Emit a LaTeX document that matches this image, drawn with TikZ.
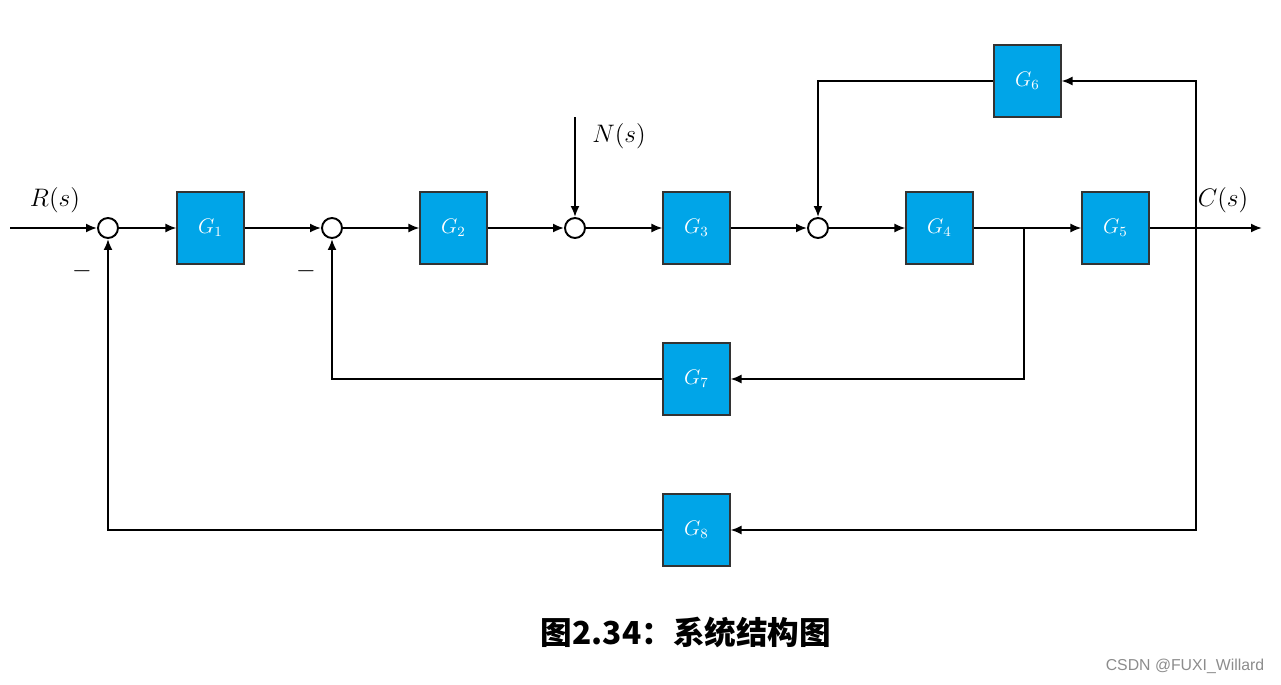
\documentclass[tikz,border=0pt]{standalone}
\usepackage{fontspec}
\newfontfamily\cjk{Noto Sans CJK SC}
\newfontfamily\wmfont{Liberation Sans}
\usepackage{tikz}
\usetikzlibrary{arrows.meta}
\definecolor{blkblue}{RGB}{0,165,232}
\begin{document}
\begin{tikzpicture}[x=0.02cm,y=-0.02cm,
    blk/.style={draw=black!80,line width=0.6pt,fill=blkblue,minimum width=1.34cm,minimum height=1.44cm,inner sep=0pt,text=white,font=\large},
    sum/.style={circle,draw,line width=1.1pt,fill=white,minimum size=0.4cm,inner sep=0pt},
    sig/.style={line width=1.1pt,-{Latex[length=2.2mm,width=1.8mm]}},
    wire/.style={line width=1.1pt},
    lbl/.style={font=\Large}]
        \useasboundingbox (0,0) rectangle (1281,684);

        \coordinate (in) at (10,228);
        \coordinate (nin) at (575,117);
        \coordinate (out) at (1262,228);
        \coordinate (b4) at (1024,228);
        \coordinate (bc) at (1196,228);

        \node[sum] (s1) at (108,228) {};
        \node[blk] (G1) at (210.5,228) {$G_1$};
        \node[sum] (s2) at (332,228) {};
        \node[blk] (G2) at (453.5,228) {$G_2$};
        \node[sum] (s3) at (575,228) {};
        \node[blk] (G3) at (696.5,228) {$G_3$};
        \node[sum] (s4) at (818,228) {};
        \node[blk] (G4) at (939.5,228) {$G_4$};
        \node[blk] (G5) at (1115.5,228) {$G_5$};
        \node[blk] (G6) at (1027.5,81) {$G_6$};
        \node[blk] (G7) at (696.5,379) {$G_7$};
        \node[blk] (G8) at (696.5,530) {$G_8$};

        \node[lbl] (R) at (55,200) {$R(s)$};
        \node[lbl] (N) at (619,136) {$N(s)$};
        \node[lbl] (C) at (1223,200) {$C(s)$};
        \node[lbl] (m1) at (82,271) {$-$};
        \node[lbl] (m2) at (306,271) {$-$};

        % forward path
        \draw[sig] (in) -- (s1);
        \draw[sig] (s1) -- (G1);
        \draw[sig] (G1) -- (s2);
        \draw[sig] (s2) -- (G2);
        \draw[sig] (G2) -- (s3);
        \draw[sig] (nin) -- (s3);
        \draw[sig] (s3) -- (G3);
        \draw[sig] (G3) -- (s4);
        \draw[sig] (s4) -- (G4);
        \draw[wire] (G4) -- (b4);
        \draw[sig] (b4) -- (G5);
        \draw[sig] (G5) -- (out);

        % feedback loops
        \draw[sig] (bc) |- (G6.east);
        \draw[sig] (G6.west) -| (s4.north);
        \draw[sig] (b4) |- (G7.east);
        \draw[sig] (G7.west) -| (s2.south);
        \draw[sig] (bc) |- (G8.east);
        \draw[sig] (G8.west) -| (s1.south);

        \node[font=\cjk\bfseries\fontsize{18}{20}\selectfont] (cap) at (686,632) {图2.34：系统结构图};
        \node[font=\wmfont\fontsize{9}{10}\selectfont,text=black!45] (wm) at (1185,666) {CSDN @FUXI\_Willard};
\end{tikzpicture}
\end{document}
